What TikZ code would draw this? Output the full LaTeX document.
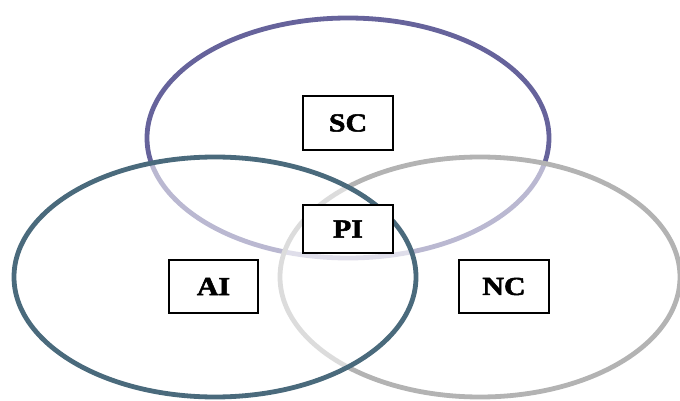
\documentclass[tikz,border=0pt]{standalone}
\usepackage{fontspec}
\setmainfont{Liberation Serif}
\newfontfamily\lblfont[FakeStretch=1.15, FakeBold=2]{Liberation Serif}
\definecolor{scol}{HTML}{66639B}
\definecolor{acol}{HTML}{4A6A7C}
\definecolor{ncol}{HTML}{B3B3B3}
\begin{document}
\begin{tikzpicture}[x=1pt,y=-1pt,
  ring/.style={line width=4.8pt},
  lbl/.style={draw=black, line width=1.3pt, fill=white, minimum width=90pt, font={\lblfont\bfseries\fontsize{26pt}{28pt}\selectfont}, inner sep=0pt}]
\useasboundingbox (0,0) rectangle (680,401);
\begin{scope}
\clip (0,0) rectangle (680,401);
\draw[ring, scol] (348,138) ellipse [x radius=201, y radius=120];
\draw[ring, ncol, fill=white, fill opacity=0.55] (480,277) ellipse [x radius=200, y radius=120];
\draw[ring, acol, fill=white, fill opacity=0.55] (215,277) ellipse [x radius=201, y radius=120];
\end{scope}
\node[lbl, minimum height=54pt] (sc) at (348,123) {SC};
\node[lbl, minimum height=48pt] (pi) at (348,229) {PI};
\node[lbl, minimum height=53pt, minimum width=89pt] (ai) at (213.5,286.5) {AI};
\node[lbl, minimum height=53pt] (nc) at (504,286.5) {NC};
\end{tikzpicture}
\end{document}
